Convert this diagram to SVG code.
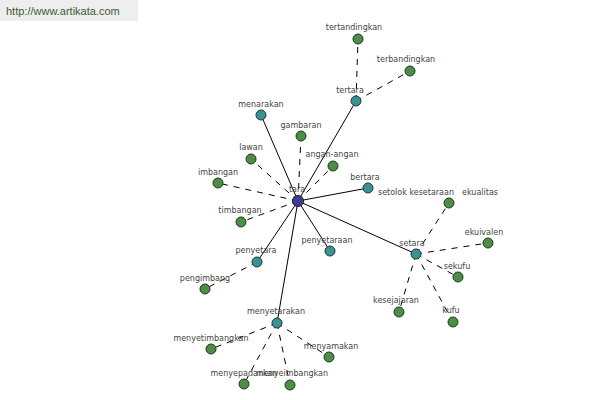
<svg xmlns="http://www.w3.org/2000/svg" width="600" height="400" viewBox="0 0 600 400">
<style>
text{font-family:"DejaVu Sans","Liberation Sans",sans-serif;font-size:8px;fill:#444;text-anchor:middle}
.s{stroke:#000;stroke-width:1;fill:none}
.d{stroke:#000;stroke-width:1;fill:none;stroke-dasharray:6,6}
.t{fill:#3c9292;stroke:#1a3a3a;stroke-width:1}
.g{fill:#4e8d47;stroke:#1f3a1c;stroke-width:1}
.c{fill:#3f3f94;stroke:#16163a;stroke-width:1}
</style>
<rect x="0" y="0" width="138" height="21" fill="#eeeeee"/>
<text x="6" y="15" style="text-anchor:start;font-family:'Liberation Sans',Arial,sans-serif;font-size:11px;fill:#3d5a2d">http://www.artikata.com</text>
<g id="connectors">
<line class="s" x1="298" y1="201" x2="261" y2="115"/>
<line class="s" x1="298" y1="201" x2="356" y2="101"/>
<line class="s" x1="298" y1="201" x2="368" y2="188"/>
<line class="s" x1="298" y1="201" x2="416" y2="254"/>
<line class="s" x1="298" y1="201" x2="257" y2="262"/>
<line class="s" x1="298" y1="201" x2="330" y2="251"/>
<line class="s" x1="298" y1="201" x2="277" y2="323"/>
<line class="d" x1="298" y1="201" x2="301" y2="136"/>
<line class="d" x1="298" y1="201" x2="251" y2="159"/>
<line class="d" x1="298" y1="201" x2="333" y2="166"/>
<line class="d" x1="298" y1="201" x2="218" y2="183"/>
<line class="d" x1="298" y1="201" x2="241" y2="222"/>
<line class="d" x1="356" y1="101" x2="358" y2="39"/>
<line class="d" x1="356" y1="101" x2="410" y2="71"/>
<line class="d" x1="257" y1="262" x2="205" y2="289"/>
<line class="d" x1="416" y1="254" x2="449" y2="203"/>
<line class="d" x1="416" y1="254" x2="488" y2="243"/>
<line class="d" x1="416" y1="254" x2="458" y2="277"/>
<line class="d" x1="416" y1="254" x2="453" y2="322"/>
<line class="d" x1="416" y1="254" x2="399" y2="312"/>
<line class="d" x1="277" y1="323" x2="211" y2="349"/>
<line class="d" x1="277" y1="323" x2="329" y2="357"/>
<line class="d" x1="277" y1="323" x2="244" y2="384"/>
<line class="d" x1="277" y1="323" x2="290" y2="385"/>
</g>
<g id="n-tertandingkan"><circle class="g" cx="358" cy="39" r="5"/><text x="354" y="30">tertandingkan</text></g>
<g id="n-terbandingkan"><circle class="g" cx="410" cy="71" r="5"/><text x="406" y="62">terbandingkan</text></g>
<g id="n-tertara"><circle class="t" cx="356" cy="101" r="5"/><text x="350" y="93">tertara</text></g>
<g id="n-menarakan"><circle class="t" cx="261" cy="115" r="5"/><text x="261" y="107">menarakan</text></g>
<g id="n-gambaran"><circle class="g" cx="301" cy="136" r="5"/><text x="301" y="128">gambaran</text></g>
<g id="n-lawan"><circle class="g" cx="251" cy="159" r="5"/><text x="251" y="150">lawan</text></g>
<g id="n-angan-angan"><circle class="g" cx="333" cy="166" r="5"/><text x="332" y="157">angan-angan</text></g>
<g id="n-imbangan"><circle class="g" cx="218" cy="183" r="5"/><text x="218" y="175">imbangan</text></g>
<g id="n-bertara"><circle class="t" cx="368" cy="188" r="5"/><text x="365" y="180">bertara</text></g>
<g id="n-timbangan"><circle class="g" cx="241" cy="222" r="5"/><text x="240" y="213">timbangan</text></g>
<g id="n-setolok"><text x="416" y="195">setolok kesetaraan</text></g>
<g id="n-ekualitas"><circle class="g" cx="449" cy="203" r="5"/><text x="480" y="195">ekualitas</text></g>
<g id="n-ekuivalen"><circle class="g" cx="488" cy="243" r="5"/><text x="484" y="235">ekuivalen</text></g>
<g id="n-setara"><circle class="t" cx="416" cy="254" r="5"/><text x="412" y="246">setara</text></g>
<g id="n-penyetaraan"><circle class="t" cx="330" cy="251" r="5"/><text x="327" y="243">penyetaraan</text></g>
<g id="n-penyetara"><circle class="t" cx="257" cy="262" r="5"/><text x="256" y="253">penyetara</text></g>
<g id="n-sekufu"><circle class="g" cx="458" cy="277" r="5"/><text x="457" y="269">sekufu</text></g>
<g id="n-pengimbang"><circle class="g" cx="205" cy="289" r="5"/><text x="205" y="281">pengimbang</text></g>
<g id="n-kesejajaran"><circle class="g" cx="399" cy="312" r="5"/><text x="396" y="303">kesejajaran</text></g>
<g id="n-kufu"><circle class="g" cx="453" cy="322" r="5"/><text x="451" y="313">kufu</text></g>
<g id="n-menyetarakan"><circle class="t" cx="277" cy="323" r="5"/><text x="276" y="314">menyetarakan</text></g>
<g id="n-menyetimbangkan"><circle class="g" cx="211" cy="349" r="5"/><text x="211" y="341">menyetimbangkan</text></g>
<g id="n-menyamakan"><circle class="g" cx="329" cy="357" r="5"/><text x="331" y="349">menyamakan</text></g>
<g id="n-menyepadankan"><circle class="g" cx="244" cy="384" r="5"/><text x="244" y="376">menyepadankan</text></g>
<g id="n-menyeimbangkan"><circle class="g" cx="290" cy="385" r="5"/><text x="292" y="376">menyeimbangkan</text></g>
<g id="n-tara"><circle class="c" cx="298" cy="201" r="5.5"/><text x="297" y="192">tara</text></g>
</svg>
